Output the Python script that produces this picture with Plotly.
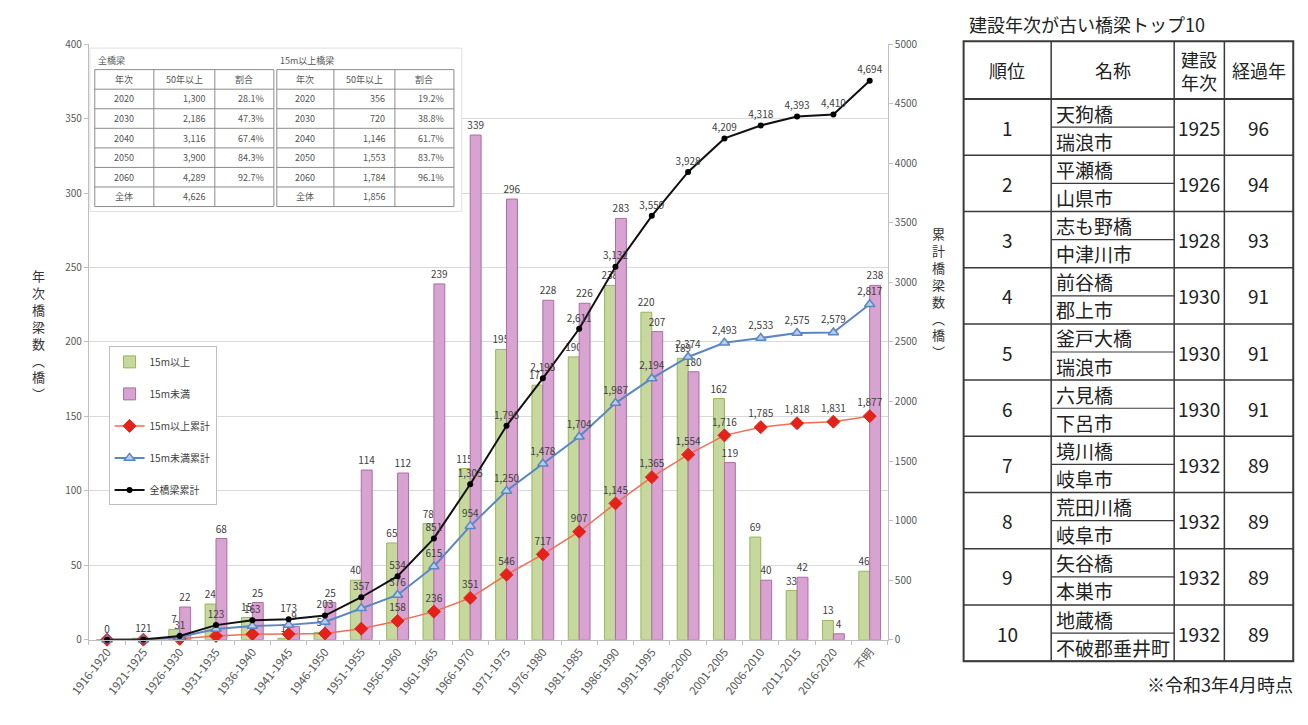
import numpy as np
import plotly.graph_objects as go

# ---------------- data ----------------
periods = ["1916-1920", "1921-1925", "1926-1930", "1931-1935", "1936-1940", "1941-1945",
           "1946-1950", "1951-1955", "1956-1960", "1961-1965", "1966-1970", "1971-1975",
           "1976-1980", "1981-1985", "1986-1990", "1991-1995", "1996-2000", "2001-2005",
           "2006-2010", "2011-2015", "2016-2020", "不明"]
over15 = [0, 1, 7, 24, 15, 1, 5, 40, 65, 78, 115, 195, 171, 190, 238, 220, 189, 162, 69, 33, 13, 46]
under15 = [0, 1, 22, 68, 25, 9, 25, 114, 112, 239, 339, 296, 228, 226, 283, 207, 180, 119, 40, 42, 4, 238]

# inset table (top-left)
inset_header = ["年次", "50年以上", "割合"]
inset_years = [2020, 2030, 2040, 2050, 2060]
all_over50 = [1300, 2186, 3116, 3900, 4289]
all_ratio = ["28.1%", "47.3%", "67.4%", "84.3%", "92.7%"]
all_total = 4626
long_over50 = [356, 720, 1146, 1553, 1784]
long_ratio = ["19.2%", "38.8%", "61.7%", "83.7%", "96.1%"]
long_total = 1856

# right table
table_title = "建設年次が古い橋梁トップ10"
table_header = ["順位", "名称", "建設<br>年次", "経過年"]
ranks = [1, 2, 3, 4, 5, 6, 7, 8, 9, 10]
bridge_names = ["天狗橋", "平瀬橋", "志も野橋", "前谷橋", "釜戸大橋", "六見橋", "境川橋", "荒田川橋", "矢谷橋", "地蔵橋"]
cities = ["瑞浪市", "山県市", "中津川市", "郡上市", "瑞浪市", "下呂市", "岐阜市", "岐阜市", "本巣市", "不破郡垂井町"]
built_year = [1925, 1926, 1928, 1930, 1930, 1930, 1932, 1932, 1932, 1932]
elapsed = [96, 94, 93, 91, 91, 91, 89, 89, 89, 89]
table_note = "※令和3年4月時点"

# ---------------- derived ----------------
cum_over15 = np.cumsum(over15)
cum_under15 = np.cumsum(under15)
cum_all = cum_over15 + cum_under15

W, H = 1308, 725
FONT = "Noto Sans CJK JP, Noto Sans, sans-serif"


def px(x):
    return x / W


def py(y):
    return 1 - y / H


LABEL_FROM = 8  # cumulative labels for the 15m series start here

fig = go.Figure()

fig.add_bar(x=periods, y=over15, name="15m以上", legendgroup="g1",
            marker=dict(color="#c6d89e", line=dict(color="#98b65a", width=1)),
            text=[str(v) if v > 0 else "" for v in over15], textposition="outside",
            textfont=dict(size=10, color="#404040"), cliponaxis=False, constraintext="none")
fig.add_bar(x=periods, y=under15, name="15m未満", legendgroup="g2",
            marker=dict(color="#d8a2d1", line=dict(color="#ab6fa4", width=1)),
            text=[str(v) if v > 0 else "" for v in under15], textposition="outside",
            textfont=dict(size=10, color="#404040"), cliponaxis=False, constraintext="none")

fig.add_scatter(x=periods, y=cum_over15, yaxis="y2", name="15m以上累計", legendgroup="g3",
                mode="lines+markers+text",
                line=dict(color="#ef6f52", width=1.5),
                marker=dict(symbol="diamond", size=10, color="#e3231b", line=dict(color="#e3231b", width=1)),
                text=[f"{v:,}" if i >= LABEL_FROM else "" for i, v in enumerate(cum_over15)],
                textposition="top center", textfont=dict(size=10, color="#404040"), cliponaxis=False)
fig.add_scatter(x=periods, y=cum_under15, yaxis="y2", name="15m未満累計", legendgroup="g4",
                mode="lines+markers+text",
                line=dict(color="#5b86c4", width=2),
                marker=dict(symbol="triangle-up", size=9, color="#b9cdea", line=dict(color="#5b86c4", width=1.5)),
                text=[f"{v:,}" if i >= LABEL_FROM else "" for i, v in enumerate(cum_under15)],
                textposition="top center", textfont=dict(size=10, color="#404040"), cliponaxis=False)
fig.add_scatter(x=periods, y=cum_all, yaxis="y2", name="全橋梁累計", legendgroup="g5",
                mode="lines+markers+text",
                line=dict(color="#111111", width=2),
                marker=dict(symbol="circle", size=6, color="#000000"),
                text=[f"{v:,}" for v in cum_all],
                textposition="top center", textfont=dict(size=10, color="#404040"), cliponaxis=False)

shapes = []
annotations = []

# ---------- inset table ----------
row_top = 62
row_h = 20
nrows = 7
sub_tables = [
    ("全橋梁", [75, 135, 197, 257], all_over50, all_ratio, all_total),
    ("15m以上橋梁", [260, 318, 380, 440], long_over50, long_ratio, long_total),
]
shapes.append(dict(type="rect", xref="paper", yref="paper", layer="above",
                   x0=px(70), x1=px(448), y0=py(40), y1=py(207),
                   fillcolor="white", line=dict(color="#e0e0e0", width=1)))
for title, xs, vals, ratios, total in sub_tables:
    annotations.append(dict(x=px(xs[0] + 1), y=py(row_top - 9), xref="paper", yref="paper",
                            text=title, showarrow=False, xanchor="left", yanchor="middle",
                            font=dict(size=9, color="#555", family=FONT)))
    yb = row_top + nrows * row_h
    shapes.append(dict(type="rect", xref="paper", yref="paper", layer="above",
                       x0=px(xs[0]), x1=px(xs[-1]), y0=py(row_top), y1=py(yb),
                       fillcolor="white", line=dict(color="#8c8c8c", width=1)))
    for xv in xs[1:-1]:
        shapes.append(dict(type="line", xref="paper", yref="paper", layer="above",
                           x0=px(xv), x1=px(xv), y0=py(row_top), y1=py(yb),
                           line=dict(color="#8c8c8c", width=1)))
    for r in range(1, nrows):
        yy = row_top + r * row_h
        shapes.append(dict(type="line", xref="paper", yref="paper", layer="above",
                           x0=px(xs[0]), x1=px(xs[-1]), y0=py(yy), y1=py(yy),
                           line=dict(color="#8c8c8c", width=1)))
    rows = [inset_header]
    for yr, v, rt in zip(inset_years, vals, ratios):
        rows.append([str(yr), f"{v:,}", rt])
    rows.append(["全体", f"{total:,}", ""])
    for r, row in enumerate(rows):
        yc = row_top + r * row_h + row_h / 2
        for c, txt in enumerate(row):
            if c == 0 or r == 0:
                xa, xanc = (xs[c] + xs[c + 1]) / 2, "center"
            else:
                xa, xanc = xs[c + 1] - 8, "right"
            annotations.append(dict(x=px(xa), y=py(yc), xref="paper", yref="paper", text=txt,
                                    showarrow=False, xanchor=xanc, yanchor="middle",
                                    font=dict(size=9, color="#555", family=FONT)))

# ---------- right table ----------
tx = [958, 1047, 1172, 1223, 1293]
t_top, t_head = 33, 92
t_row = (667 - 92) / 10
t_bot = t_head + 10 * t_row
lc = "#3a3a3a"
shapes.append(dict(type="rect", xref="paper", yref="paper", x0=px(tx[0]), x1=px(tx[-1]),
                   y0=py(t_top), y1=py(t_bot), line=dict(color=lc, width=2)))
for xv in tx[1:-1]:
    shapes.append(dict(type="line", xref="paper", yref="paper", x0=px(xv), x1=px(xv),
                       y0=py(t_top), y1=py(t_bot), line=dict(color=lc, width=1.5)))
for r in range(11):
    yy = t_head + r * t_row
    shapes.append(dict(type="line", xref="paper", yref="paper", x0=px(tx[0]), x1=px(tx[-1]),
                       y0=py(yy), y1=py(yy), line=dict(color=lc, width=2 if r == 0 else 1.5)))
    if r < 10:
        ym = yy + t_row / 2
        shapes.append(dict(type="line", xref="paper", yref="paper", x0=px(tx[1]), x1=px(tx[2]),
                           y0=py(ym), y1=py(ym), line=dict(color=lc, width=1.2)))

annotations.append(dict(x=px(961), y=py(15), xref="paper", yref="paper", text=table_title,
                        showarrow=False, xanchor="left", yanchor="middle",
                        font=dict(size=18, color="#222", family=FONT)))
for c, txt in enumerate(table_header):
    annotations.append(dict(x=px((tx[c] + tx[c + 1]) / 2), y=py((t_top + t_head) / 2),
                            xref="paper", yref="paper", text=txt, showarrow=False,
                            xanchor="center", yanchor="middle",
                            font=dict(size=18, color="#222", family=FONT)))
for i in range(10):
    yt = t_head + i * t_row
    yc = yt + t_row / 2
    annotations.append(dict(x=px((tx[0] + tx[1]) / 2), y=py(yc), xref="paper", yref="paper",
                            text=str(ranks[i]), showarrow=False, xanchor="center", yanchor="middle",
                            font=dict(size=19, color="#222", family=FONT)))
    annotations.append(dict(x=px(tx[1] + 3), y=py(yt + t_row / 4), xref="paper", yref="paper",
                            text=bridge_names[i], showarrow=False, xanchor="left", yanchor="middle",
                            font=dict(size=19, color="#222", family=FONT)))
    annotations.append(dict(x=px(tx[1] + 3), y=py(yt + 3 * t_row / 4), xref="paper", yref="paper",
                            text=cities[i], showarrow=False, xanchor="left", yanchor="middle",
                            font=dict(size=19, color="#222", family=FONT)))
    annotations.append(dict(x=px((tx[2] + tx[3]) / 2), y=py(yc), xref="paper", yref="paper",
                            text=str(built_year[i]), showarrow=False, xanchor="center", yanchor="middle",
                            font=dict(size=19, color="#222", family=FONT)))
    annotations.append(dict(x=px((tx[3] + tx[4]) / 2), y=py(yc), xref="paper", yref="paper",
                            text=str(elapsed[i]), showarrow=False, xanchor="center", yanchor="middle",
                            font=dict(size=19, color="#222", family=FONT)))
annotations.append(dict(x=px(1295), y=py(690), xref="paper", yref="paper", text=table_note,
                        showarrow=False, xanchor="right", yanchor="middle",
                        font=dict(size=18, color="#222", family=FONT)))

# ---------- axis titles (vertical text) ----------
annotations.append(dict(x=px(18), y=py(333), xref="paper", yref="paper",
                        text="<br>".join(list("年次橋梁数") + ["︵", "橋", "︶"]),
                        showarrow=False, xanchor="center", yanchor="middle",
                        font=dict(size=13, color="#333", family=FONT)))
annotations.append(dict(x=px(932), y=py(290), xref="paper", yref="paper",
                        text="<br>".join(list("累計橋梁数") + ["︵", "橋", "︶"]),
                        showarrow=False, xanchor="center", yanchor="middle",
                        font=dict(size=13, color="#333", family=FONT)))

fig.update_layout(
    width=W, height=H, autosize=False,
    margin=dict(l=0, r=0, t=0, b=0),
    paper_bgcolor="white", plot_bgcolor="white",
    font=dict(family=FONT, color="#404040"),
    barmode="group", bargap=0.4, bargroupgap=0,
    xaxis=dict(domain=[px(69), px(881)], type="category", range=[-0.5, 21.5],
               tickangle=-52, tickfont=dict(size=11.5, color="#595959"),
               showline=True, linecolor="#bfbfbf", ticks="outside", tickson="boundaries",
               ticklen=4, tickcolor="#bfbfbf", showgrid=False),
    yaxis=dict(domain=[py(645), py(36)], range=[0, 400], dtick=50,
               showgrid=True, gridcolor="#d9d9d9", gridwidth=1,
               showline=True, linecolor="#bfbfbf", ticks="outside", ticklen=4, tickcolor="#bfbfbf",
               tickfont=dict(size=10, color="#595959"), zeroline=False),
    yaxis2=dict(overlaying="y", side="right", range=[0, 5000], dtick=500, showgrid=False,
                showline=True, linecolor="#bfbfbf", ticks="outside", ticklen=4, tickcolor="#bfbfbf",
                tickfont=dict(size=10, color="#595959"), zeroline=False),
    legend=dict(x=px(89), y=py(345), xanchor="left", yanchor="top",
                bgcolor="white", bordercolor="#bfbfbf", borderwidth=1,
                font=dict(size=10, color="#404040", family=FONT),
                traceorder="grouped", tracegroupgap=13, itemwidth=30, entrywidth=95),
    shapes=shapes, annotations=annotations,
)

fig.write_html("out.html")
